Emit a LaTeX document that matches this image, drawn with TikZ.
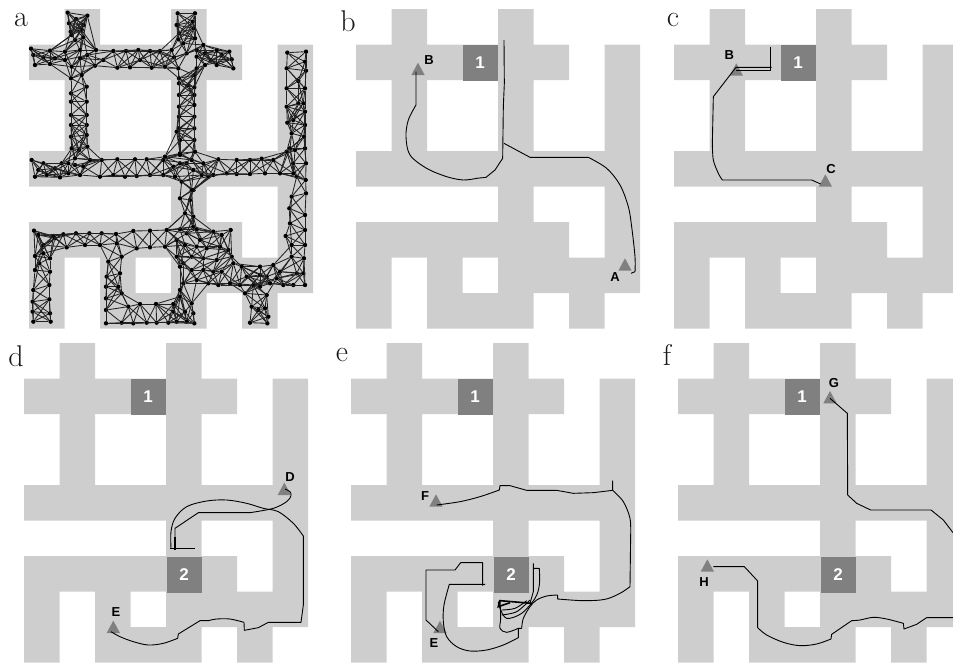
\documentclass[tikz,border=0pt]{standalone}
\usepackage{fontspec}
\newfontfamily\lab{Liberation Sans}[BoldFont={Liberation Sans Bold}]
\definecolor{mapgray}{HTML}{CECECE}
\definecolor{boxgray}{HTML}{808080}
\definecolor{edgegray}{HTML}{222222}
\tikzset{
  dot/.style={circle,fill=black,inner sep=0pt,minimum size=4.4pt},
  meshedge/.style={draw=edgegray,line width=.85pt},
  route/.style={draw=black,line width=.9pt,line join=round},
  thickroute/.style={draw=black,line width=1.6pt},
  tag/.style={font=\lab\bfseries\fontsize{13}{13}\selectfont,text=black,inner sep=0pt},
  boxnum/.style={font=\lab\bfseries\fontsize{17}{17}\selectfont,text=white,inner sep=0pt},
  panelname/.style={font=\fontsize{30}{30}\selectfont,anchor=base,inner sep=0pt,text=black!90}
}
\newcommand{\mapshape}[2]{%
  \begin{scope}[shift={(#1,#2)},x=35.5pt,y=-35.5pt]
    \fill[mapgray]
      (0,1) rectangle (6,2) (0,4) rectangle (8,5) (0,6) rectangle (6,7)
      (4,7) rectangle (8,8) (2,8) rectangle (5,9)
      (1,0) rectangle (2,5) (4,0) rectangle (5,9) (7,1) rectangle (8,8)
      (0,6) rectangle (1,9) (2,6) rectangle (3,9) (6,7) rectangle (7,9);
  \end{scope}}
\newcommand{\mapbox}[4]{% name, x, y, text
  \fill[boxgray] (#2,#3) rectangle +(34.5,35.5);
  \node[boxnum] (#1) at ($(#2,#3)+(17,18)$) {#4};}
\newcommand{\tri}[2]{\fill[boxgray] (#1,#2) -- ++(-20,37) -- ++(40,0) -- cycle;}
\newcount\ci \newcount\cj \newcount\cdx \newcount\cdy \newcount\npts \newcount\cdist
\newcount\rlow \newcount\rhigh \newcount\degcap
\def\bumpdeg#1{\expandafter\xdef\csname PD#1\endcsname{\the\numexpr\csname PD#1\endcsname+1\relax}}
\def\testpair{%
  \cdx=\numexpr\csname PX\the\ci\endcsname-\csname PX\the\cj\endcsname\relax
  \cdy=\numexpr\csname PY\the\ci\endcsname-\csname PY\the\cj\endcsname\relax
  \cdist=\numexpr\cdx*\cdx+\cdy*\cdy\relax
  \ifnum\cdist<\rhigh \ifnum\cdist>\rlow
    \ifnum\csname PD\the\ci\endcsname<\degcap \ifnum\csname PD\the\cj\endcsname<\degcap
      \draw[meshedge] (n\the\ci) -- (n\the\cj);
      \bumpdeg{\the\ci}\bumpdeg{\the\cj}%
    \fi\fi
  \fi\fi}
\def\innerloop{\ifnum\cj<\npts \advance\cj 1 \testpair \expandafter\innerloop\fi}
\def\outerloop{\ifnum\ci<\npts \advance\ci 1 \cj=\ci \innerloop \expandafter\outerloop\fi}
\usetikzlibrary{calc}
\begin{document}
\begin{tikzpicture}[x=1pt,y=-1pt]
\useasboundingbox (0,0) rectangle (953,664);
\clip (0,0) rectangle (953,664);
\mapshape{29}{9}\mapshape{356}{9}\mapshape{674}{9}
\mapshape{24}{343}\mapshape{351}{343}\mapshape{678}{343}
\mapbox{b1}{463}{45}{1}
\mapbox{c1}{781}{45}{1}
\mapbox{d1}{131}{379}{1}
\mapbox{d2}{167}{557}{2}
\mapbox{e1}{458}{379}{1}
\mapbox{e2}{494}{557}{2}
\mapbox{f1}{785}{379}{1}
\mapbox{f2}{821}{557}{2}
% panel names
\node[panelname] (la) at (21,26) {a};
\node[panelname] (lb) at (348,31) {b};
\node[panelname] (lc) at (673,26) {c};
\node[panelname] (ld) at (16,366) {d};
\node[panelname] (le) at (342,361) {e};
\node[panelname] (lf) at (667,365) {f};
% ---- panel a mesh, in 3x coordinates
\begin{scope}[x=.33333pt,y=-.33333pt]
\npts=0
\foreach \x/\y in {150/152,215/105,262/47,288/150,495/470,530/395,500/690,555/640,580/570,625/530,
 203/38,228/57,207/70,250/75,212/95,245/90,225/120,250/112,
 93/146,195/155,240/150,340/153,378/153,415/150,450/153,480/153,515/150,
 100/165,105/195,150/192,130/172,165/175,215/200,195/180,240/175,262/165,285/197,310/180,352/203,390/202,420/180,455/203,495/200,535/205,
 533/40,585/40,578/65,530/75,580/85,537/100,535/118,585/115,550/130,522/172,560/160,590/150,610/135,
 590/170,615/160,650/150,688/155,632/180,650/195,665/165,695/178,700/205,615/195,590/205,
 537/235,537/250,537/285,537/320,537/350,537/385,540/420,540/460,
 583/225,583/262,583/285,583/315,583/350,583/385,583/420,585/455,565/255,
 213/235,213/280,213/305,213/345,213/375,213/410,245/225,260/260,260/305,260/345,260/375,260/405,262/440,237/450,215/445,
 95/480,130/490,185/490,225/475,270/480,305/480,352/478,405/478,440/478,490/480,540/465,575/480,610/490,655/478,710/480,750/480,785/476,820/480,860/455,885/450,
 105/530,140/525,180/532,205/520,240/525,300/530,340/525,375/530,410/528,450/525,490/525,525/530,545/545,605/525,640/525,680/520,710/522,750/522,795/520,840/520,880/520,
 115/510,165/505,205/490,250/500,225/495,520/500,540/490,580/510,560/490,
 862/158,860/205,860/265,860/320,862/368,875/400,870/445,
 918/155,915/185,918/212,895/243,915/265,910/310,915/335,915/375,912/410,915/445,918/490,917/540,918/580,915/645,915/690,915/735,912/775,910/820,915/855,
 880/490,890/530,875/590,868/625,870/670,857/708,875/735,875/770,895/310,880/360,
 575/570,540/595,570/600,580/650,580/680,
 102/692,160/708,190/703,228/700,268/700,305/700,348/702,400/693,450/692,540/688,590/688,640/695,692/690,
 115/705,130/735,165/715,200/742,255/735,300/735,365/770,410/745,450/742,495/740,530/770,350/730,
 105/768,105/810,100/870,98/905,98/935,100/965,
 150/775,150/815,148/855,148/898,150/940,152/965,130/760,118/790,
 325/785,320/830,318/860,318/895,318/930,318/970,360/820,355/860,365/880,385/920,
 420/912,468/912,520/912,540/870,
 365/968,400/970,440/968,470/968,505/968,530/965,560/965,583/970,540/890,575/910,520/935,555/935,580/940,
 560/700,600/720,665/705,685/750,660/740,620/745,590/740,555/735,530/720,575/770,610/775,650/780,695/770,
 540/800,575/810,610/810,640/815,665/815,700/790,550/850,590/840,625/850,655/855,690/850,720/855,550/790,725/800,
 780/800,820/795,740/830,780/825,800/830,840/815,850/855,780/860,810/850,880/855,760/855,830/835,890/820,
 735/880,755/920,800/885,795/925,805/950,750/968,802/970,775/930}{
  \global\advance\npts 1
  \expandafter\xdef\csname PX\the\npts\endcsname{\x}
  \expandafter\xdef\csname PY\the\npts\endcsname{\y}
  \expandafter\xdef\csname PD\the\npts\endcsname{0}
  \node[dot] (n\the\npts) at (\x,\y) {};
}
% first the short links, then the longer ones, each up to a limit per node
\rlow=-1 \rhigh=3000 \degcap=6 \ci=0 \outerloop
\rlow=2999 \rhigh=6800 \degcap=9 \ci=0 \outerloop
\foreach \a/\b in {1/2,3/4,5/6,7/8,9/10}{\draw[meshedge] (n\a) -- (n\b);}
\end{scope}
% ---- panel b
\begin{scope}[shift={(330,0)},x=.33333pt,y=-.33333pt]
\tri{264}{188}\tri{885}{775}
\node[tag] (bB) at (297,180) {B};
\node[tag] (bA) at (855,832) {A};
\draw[route] (258,215) -- (258,315) plot[smooth,tension=.55] coordinates {(258,315)(235,360)(228,410)(240,465)(290,505)(350,530)(400,540)(440,535)} -- (468,532) -- (495,510) -- (518,475) -- (520,320) -- (523,250) -- (522,120);
\draw[route] (522,430) -- (600,472) -- (775,472) plot[smooth,tension=.55] coordinates {(775,472)(830,505)(870,555)(895,620)(905,680)(915,770)(915,815)} -- (903,820);
\end{scope}
% ---- panel c
\begin{scope}[shift={(650,0)},x=.33333pt,y=-.33333pt]
\tri{259}{190}\tri{526}{523}
\node[tag] (cB) at (238,165) {B};
\node[tag] (cC) at (543,507) {C};
\draw[route] (360,142) -- (360,212) -- (258,212);
\draw[route] (365,202) -- (258,202) -- (190,290) -- (187,430) plot[smooth,tension=.55] coordinates {(187,430)(190,480)(205,520)(217,540)} -- (485,540) -- (512,552);
\end{scope}
% ---- panel d
\begin{scope}[shift={(0,335)},x=.33333pt,y=-.33333pt]
\tri{853}{443}\tri{340}{857}
\node[tag] (dD) at (870,427) {D};
\node[tag] (dE) at (348,830) {E};
\draw[route] plot[smooth,tension=.55] coordinates {(855,462)(870,470)(873,482)(860,500)(820,520)(750,533)} -- (595,533) -- (525,580) -- (525,640);
\draw[route] (510,641) -- (585,641);
\draw[thickroute] (525,605) -- (525,645);
\draw[route] plot[smooth,tension=.55] coordinates {(513,640)(513,590)(525,550)(560,515)(620,498)(680,495)(740,505)(790,520)(835,530)(880,565)(910,603)} -- (910,810) -- (903,862) -- (805,862) -- (775,878) -- (733,886) -- (732,862) plot[smooth,tension=.55] coordinates {(732,862)(690,852)(650,852)(625,857)} -- (600,857) -- (535,897) -- (533,910) plot[smooth,tension=.55] coordinates {(533,910)(490,925)(445,930)(400,920)(360,905)(333,890)};
\end{scope}
% ---- panel e
\begin{scope}[shift={(330,335)},x=.33333pt,y=-.33333pt]
\tri{318}{478}\tri{330}{857}
\node[tag] (eF) at (285,482) {F};
\node[tag] (eE) at (312,925) {E};
\draw[route] plot[smooth,tension=.55] coordinates {(320,510)(390,500)(450,485)(508,465)} -- (510,452) -- (540,452) -- (590,466) -- (680,466) -- (730,475) -- (790,473) -- (848,466);
\draw[route] (848,437) -- (848,466) plot[smooth,tension=.55] coordinates {(848,466)(880,500)(900,550)(902,600)} -- (900,755) plot[smooth,tension=.55] coordinates {(900,755)(870,775)(825,793)(760,797)(683,792)} -- (683,780) plot[smooth,tension=.55] coordinates {(683,780)(650,783)(620,795)(600,815)(580,850)(575,880)} -- (565,880) -- (565,908) plot[smooth,tension=.55] coordinates {(565,908)(520,930)(470,945)(420,948)(380,935)(350,905)(340,860)(342,810)(358,748)} -- (465,748);
\draw[route] (458,752) -- (458,683) -- (392,683) -- (375,705) -- (288,705) -- (288,855) -- (325,890);
\draw[route] (610,685) -- (610,770) -- (600,805);
\draw[route] (612,700) -- (628,700) plot[smooth,tension=.55] coordinates {(628,700)(628,750)(615,790)(575,835)(530,850)(510,820)(505,800)};
\draw[thickroute] (510,797) -- (605,805);
\draw[thickroute] (510,795) -- (505,815) -- (540,803);
\draw[route] plot[smooth,tension=.55] coordinates {(510,795)(512,850)(510,880)(530,892)(565,880)};
\draw[route] plot[smooth,tension=.55] coordinates {(515,825)(555,820)(590,797)};
\draw[route] plot[smooth,tension=.55] coordinates {(515,840)(560,830)(600,795)};
\end{scope}
% ---- panel f
\begin{scope}[shift={(650,335)},x=.33333pt,y=-.33333pt]
\tri{540}{168}\tri{172}{673}
\node[tag] (fG) at (552,145) {G};
\node[tag] (fH) at (162,742) {H};
\draw[route] (540,190) -- (592,235) -- (593,480) -- (620,505) -- (662,525) -- (843,525) -- (880,555) -- (909,593);
\draw[route] (190,695) -- (283,695) -- (323,738) -- (323,878) plot[smooth,tension=.55] coordinates {(323,878)(350,900)(400,922)(450,932)(500,927)(543,912)} -- (545,898) -- (605,857) plot[smooth,tension=.55] coordinates {(605,857)(630,855)(670,847)(710,852)(760,865)} -- (762,882) -- (800,868) -- (830,848) -- (909,848);
\end{scope}
\end{tikzpicture}
\end{document}
